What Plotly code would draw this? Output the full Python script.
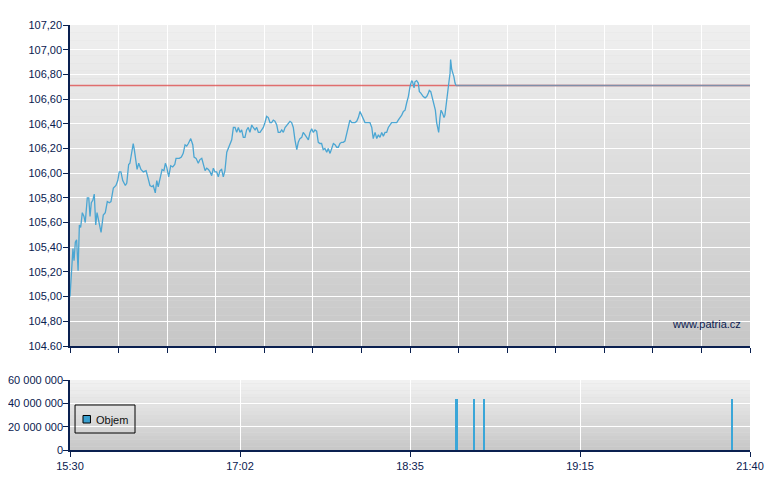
import plotly.graph_objects as go

# ---- data (minutes since 15:30, price) ----
minutes = [0.0, 1.1, 1.6, 2.2, 2.9, 3.6, 4.4, 5.1, 5.8, 6.7, 7.6, 8.3, 9.4, 10.2, 10.9, 11.6, 12.4, 13.2, 14.0, 14.7,
           15.6, 16.9, 18.1, 19.2, 20.3, 21.4, 22.3, 23.6, 25.0, 26.0, 26.8, 27.7, 28.7, 30.1, 30.9, 31.9, 32.6, 33.4,
           34.4, 35.0, 35.9, 36.5, 37.4, 38.6, 39.9, 41.4, 42.3, 43.5, 44.6, 45.3, 46.4, 47.2, 48.0, 49.0, 50.1, 51.1,
           51.9, 52.6, 53.7, 54.8, 55.9, 57.0, 57.7, 59.5, 60.6, 61.6, 62.6, 63.5, 64.4, 65.7, 66.8, 67.5, 68.6, 69.8,
           70.7, 71.7, 72.5, 73.5, 74.4, 75.3, 76.2, 77.1, 78.0, 78.9, 79.8, 80.7, 81.6, 82.5, 83.4, 84.3, 85.3, 86.1,
           87.1, 88.0, 88.9, 89.8, 90.7, 91.6, 92.5, 93.4, 94.3, 95.2, 96.1, 97.0, 97.9, 98.9, 99.7, 100.7, 101.6,
           102.5, 103.4, 104.3, 105.2, 106.1, 107.0, 107.9, 108.8, 109.7, 110.6, 111.5, 112.5, 113.3, 114.3, 115.2,
           116.1, 117.0, 117.9, 118.8, 119.7, 120.6, 121.5, 122.4, 123.4, 124.2, 125.1, 126.1, 126.9, 127.9, 128.8,
           129.7, 130.6, 131.5, 132.4, 133.3, 134.2, 135.1, 136.0, 136.9, 137.8, 138.7, 139.7, 140.5, 141.5, 142.4,
           143.3, 144.2, 145.1, 146.0, 146.9, 147.8, 148.7, 149.6, 150.6, 151.4, 152.3, 153.3, 154.1, 155.1, 156.0,
           156.9, 157.8, 158.7, 159.6, 160.5, 161.4, 162.3, 163.2, 164.2, 165.0, 166.0, 166.9, 167.8, 168.7, 169.6,
           170.5, 171.4, 172.3, 173.2, 174.1, 175.0, 175.9, 176.8, 177.8, 178.6, 179.6, 180.5, 181.4, 182.3, 183.2,
           184.1, 185.0, 185.9, 186.4, 187.2, 187.7, 188.6, 189.5, 190.1, 190.8, 191.5, 192.2, 193.2, 194.1, 195.0,
           195.5, 196.3, 196.8, 197.3, 198.0, 198.8, 199.5, 200.1, 200.6, 201.3, 201.9, 202.6, 203.5, 204.0, 205.0,
           205.7, 206.2, 206.8, 207.1, 207.7, 208.2, 208.9, 209.5, 210.0]
prices = [105.00, 105.23, 105.39, 105.29, 105.44, 105.46, 105.21, 105.58, 105.56, 105.68, 105.65, 105.60, 105.80,
          105.80, 105.65, 105.76, 105.78, 105.83, 105.58, 105.68, 105.60, 105.52, 105.66, 105.68, 105.77, 105.76,
          105.77, 105.88, 105.90, 105.94, 106.01, 106.01, 105.94, 105.90, 105.92, 106.07, 106.08, 106.16, 106.24,
          106.19, 106.08, 106.03, 106.08, 106.03, 106.01, 106.02, 105.97, 105.90, 105.89, 105.90, 105.84, 105.94,
          105.89, 105.96, 106.03, 106.02, 106.08, 106.05, 105.97, 106.06, 106.05, 106.07, 106.12, 106.12, 106.13,
          106.16, 106.23, 106.22, 106.24, 106.28, 106.23, 106.13, 106.12, 106.08, 106.11, 106.12, 106.07, 106.02,
          106.04, 106.03, 106.01, 105.98, 106.04, 106.01, 106.01, 105.97, 106.02, 106.03, 105.97, 106.02, 106.17,
          106.20, 106.23, 106.27, 106.37, 106.37, 106.33, 106.37, 106.33, 106.35, 106.29, 106.29, 106.35, 106.37,
          106.33, 106.39, 106.37, 106.35, 106.37, 106.33, 106.33, 106.35, 106.37, 106.41, 106.46, 106.45, 106.41,
          106.41, 106.43, 106.42, 106.39, 106.33, 106.33, 106.35, 106.33, 106.37, 106.39, 106.41, 106.42, 106.41,
          106.37, 106.27, 106.19, 106.25, 106.28, 106.29, 106.33, 106.31, 106.29, 106.27, 106.33, 106.36, 106.33,
          106.35, 106.34, 106.25, 106.24, 106.24, 106.19, 106.20, 106.17, 106.20, 106.16, 106.20, 106.24, 106.23,
          106.21, 106.21, 106.24, 106.25, 106.25, 106.26, 106.33, 106.36, 106.43, 106.41, 106.41, 106.41, 106.42,
          106.45, 106.50, 106.47, 106.43, 106.41, 106.41, 106.41, 106.41, 106.37, 106.28, 106.33, 106.28, 106.31,
          106.29, 106.33, 106.30, 106.33, 106.33, 106.37, 106.39, 106.41, 106.41, 106.41, 106.41, 106.43, 106.45,
          106.47, 106.50, 106.51, 106.57, 106.62, 106.70, 106.75, 106.74, 106.69, 106.74, 106.75, 106.73, 106.66,
          106.65, 106.63, 106.62, 106.61, 106.62, 106.65, 106.67, 106.66, 106.63, 106.58, 106.55, 106.51, 106.41,
          106.37, 106.33, 106.45, 106.51, 106.49, 106.45, 106.47, 106.62, 106.69, 106.74, 106.81, 106.92, 106.84,
          106.82, 106.78, 106.73, 106.71]

prev_close = 106.71
session_end = 370.0

vol_minutes = [210.4, 220.0, 225.4, 360.3]
vol_values = [43700000, 43700000, 43700000, 43700000]

price_ticks = [104.6, 104.8, 105.0, 105.2, 105.4, 105.6, 105.8, 106.0, 106.2, 106.4, 106.6, 106.8, 107.0, 107.2]
price_ticktext = ["104.60", "104,80", "105,00", "105,20", "105,40", "105,60", "105,80", "106,00", "106,20",
                  "106,40", "106,60", "106,80", "107,00", "107,20"]
vol_ticks = [0, 20000000, 40000000, 60000000]
vol_ticktext = ["0", "20 000 000", "40 000 000", "60 000 000"]
time_ticks = [0, 92.5, 185, 277.5, 370]
time_ticktext = ["15:30", "17:02", "18:35", "19:15", "21:40"]
legend_label = "Objem"
watermark = "www.patria.cz"

NAVY = "#0a2050"
BLUE = "#4ba6d3"
VOLBLUE = "#3aa6d8"
FONT = "Liberation Sans, Arial, sans-serif"

fig = go.Figure()

fig.add_trace(go.Scatter(x=[0, session_end], y=[prev_close, prev_close], mode="lines",
                         line=dict(color="rgba(222,70,70,0.75)", width=1.5),
                         hoverinfo="skip", showlegend=False, xaxis="x", yaxis="y"))
fig.add_trace(go.Scatter(x=[minutes[-1], session_end], y=[prices[-1], prices[-1]], mode="lines",
                         line=dict(color="#7f8ea9", width=1.5),
                         hoverinfo="skip", showlegend=False, xaxis="x", yaxis="y"))
fig.add_trace(go.Scatter(x=minutes, y=prices, mode="lines",
                         line=dict(color=BLUE, width=1.3),
                         showlegend=False, xaxis="x", yaxis="y"))

fig.add_trace(go.Bar(x=vol_minutes, y=vol_values, width=0.9, name=legend_label,
                     marker=dict(color=VOLBLUE, line=dict(width=0)),
                     showlegend=False, xaxis="x2", yaxis="y2"))


def gradient(xref, yref, top, bottom, n):
    out = []
    for i in range(n):
        t = i / (n - 1)
        c = round(top + (bottom - top) * t)
        out.append(dict(type="rect", xref=xref, yref=yref, x0=0, x1=1,
                        y0=1 - (i + 1) / n, y1=1 - i / n,
                        fillcolor=f"rgb({c},{c},{c})", line=dict(width=0), layer="below"))
    return out


shapes = []
shapes += gradient("x domain", "y domain", 239, 199, 42)
shapes += gradient("x2 domain", "y2 domain", 241, 200, 20)
# legend box (drawn manually to match the compact original legend)
shapes.append(dict(type="rect", xref="paper", yref="paper", x0=0.0074, x1=0.0956, y0=0.040, y1=0.1059,
                   line=dict(color="#000000", width=1), fillcolor="rgba(0,0,0,0)", layer="above"))
shapes.append(dict(type="rect", xref="paper", yref="paper", x0=0.0191, x1=0.0301, y0=0.0635, y1=0.0812,
                   line=dict(color="#000000", width=1), fillcolor="#3aa0d0", layer="above"))

axis_common = dict(showline=True, linecolor=NAVY, linewidth=1.5, ticks="outside", ticklen=5,
                   tickcolor=NAVY, tickwidth=1.2, gridcolor="#ffffff", gridwidth=1.4,
                   zeroline=False, tickfont=dict(family=FONT, size=11, color=NAVY), mirror=False,
                   automargin=False)

# page body has an 8px default margin; figure is sized so the plot areas land
# at x 70-750 and y 25-450 of the 780x490 window
fig.update_layout(
    width=772, height=482,
    margin=dict(l=62, r=30, t=17, b=40, autoexpand=False),
    paper_bgcolor="#ffffff", plot_bgcolor="#dcdcdc",
    font=dict(family=FONT, size=11, color=NAVY),
    shapes=shapes,
    bargap=0,
    showlegend=False,
    xaxis=dict(axis_common, domain=[0, 1], range=[0, session_end], anchor="y",
               tickvals=[i * session_end / 14 for i in range(15)], showticklabels=False),
    yaxis=dict(axis_common, domain=[0.2447, 1], range=[104.6, 107.2], anchor="x",
               tickvals=price_ticks, ticktext=price_ticktext, ticklabelstandoff=-1),
    xaxis2=dict(axis_common, domain=[0, 1], range=[0, session_end], anchor="y2",
                tickvals=time_ticks, ticktext=time_ticktext),
    yaxis2=dict(axis_common, domain=[0, 0.1647], range=[0, 60000000], anchor="x2",
                tickvals=vol_ticks, ticktext=vol_ticktext, ticklabelstandoff=-2),
    annotations=[
        dict(text=watermark, xref="paper", yref="paper", x=0.9897, y=0.2965,
             xanchor="right", yanchor="middle", showarrow=False,
             font=dict(family=FONT, size=11, color=NAVY)),
        dict(text=legend_label, xref="paper", yref="paper", x=0.0355, y=0.0706,
             xanchor="left", yanchor="middle", showarrow=False,
             font=dict(family=FONT, size=11, color="#111111")),
    ],
)

fig.write_html("out.html")
